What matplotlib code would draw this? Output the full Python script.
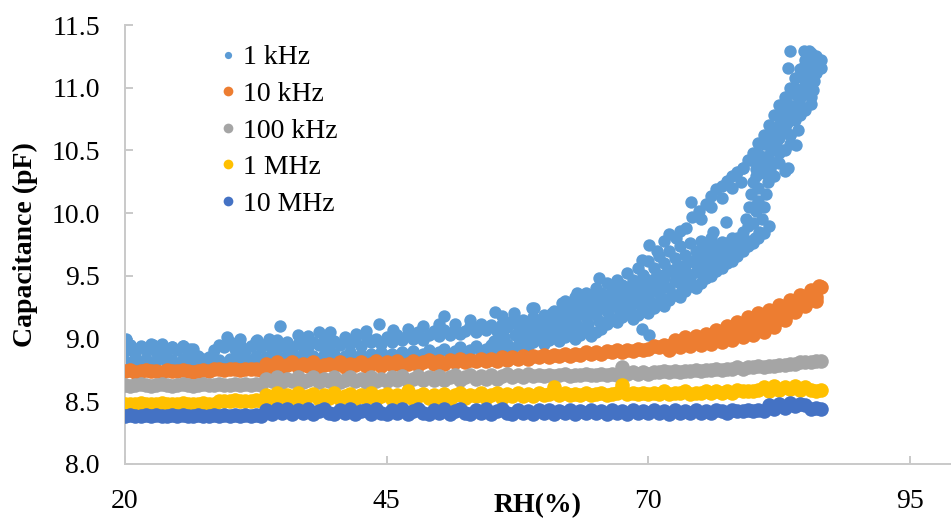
import matplotlib.pyplot as plt
from matplotlib.lines import Line2D
from matplotlib.ticker import FormatStrFormatter

plt.rcParams['font.family'] = 'Liberation Serif'

# humidity sweep, one reading every 0.5 %RH
rh = [
    20.0, 20.5, 21.0, 21.5, 22.0, 22.5, 23.0, 23.5, 24.0, 24.5,
    25.0, 25.5, 26.0, 26.5, 27.0, 27.5, 28.0, 28.5, 29.0, 29.5,
    30.0, 30.5, 31.0, 31.5, 32.0, 32.5, 33.0, 33.5, 34.0, 34.5,
    35.0, 35.5, 36.0, 36.5, 37.0, 37.5, 38.0, 38.5, 39.0, 39.5,
    40.0, 40.5, 41.0, 41.5, 42.0, 42.5, 43.0, 43.5, 44.0, 44.5,
    45.0, 45.5, 46.0, 46.5, 47.0, 47.5, 48.0, 48.5, 49.0, 49.5,
    50.0, 50.5, 51.0, 51.5, 52.0, 52.5, 53.0, 53.5, 54.0, 54.5,
    55.0, 55.5, 56.0, 56.5, 57.0, 57.5, 58.0, 58.5, 59.0, 59.5,
    60.0, 60.5, 61.0, 61.5, 62.0, 62.5, 63.0, 63.5, 64.0, 64.5,
    65.0, 65.5, 66.0, 66.5, 67.0, 67.5, 68.0, 68.5, 69.0, 69.5,
    70.0, 70.5, 71.0, 71.5, 72.0, 72.5, 73.0, 73.5, 74.0, 74.5,
    75.0, 75.5, 76.0, 76.5, 77.0, 77.5, 78.0, 78.5, 79.0, 79.5,
    80.0, 80.5, 81.0, 81.5, 82.0, 82.5, 83.0, 83.5, 84.0, 84.5,
    85.0, 85.5, 86.0, 86.5,
]

# capacitance (pF) per frequency
cap_10m = [
    8.385, 8.39, 8.385, 8.38, 8.39, 8.385, 8.39, 8.38, 8.385, 8.39,
    8.385, 8.39, 8.38, 8.385, 8.39, 8.385, 8.38, 8.39, 8.385, 8.39,
    8.385, 8.39, 8.385, 8.39, 8.385, 8.39, 8.385, 8.43, 8.40, 8.44,
    8.41, 8.44, 8.40, 8.43, 8.41, 8.44, 8.40, 8.42, 8.44, 8.41,
    8.40, 8.43, 8.41, 8.44, 8.40, 8.42, 8.43, 8.40, 8.44, 8.41,
    8.40, 8.43, 8.41, 8.44, 8.40, 8.42, 8.44, 8.41, 8.40, 8.43,
    8.41, 8.44, 8.40, 8.42, 8.44, 8.41, 8.40, 8.43, 8.41, 8.44,
    8.40, 8.42, 8.44, 8.41, 8.40, 8.43, 8.41, 8.42, 8.40, 8.43,
    8.41, 8.43, 8.40, 8.42, 8.41, 8.43, 8.40, 8.42, 8.41, 8.43,
    8.41, 8.42, 8.40, 8.43, 8.41, 8.42, 8.40, 8.43, 8.41, 8.42,
    8.41, 8.43, 8.41, 8.42, 8.40, 8.43, 8.41, 8.42, 8.41, 8.43,
    8.41, 8.42, 8.41, 8.43, 8.42, 8.41, 8.43, 8.42, 8.42, 8.43,
    8.42, 8.43, 8.42, 8.47, 8.44, 8.48, 8.45, 8.49, 8.46, 8.48,
    8.47, 8.44, 8.45, 8.44,
]

cap_1m = [
    8.48, 8.475, 8.48, 8.485, 8.48, 8.475, 8.48, 8.485, 8.48, 8.475,
    8.48, 8.485, 8.48, 8.475, 8.48, 8.485, 8.48, 8.48, 8.50, 8.505,
    8.50, 8.51, 8.50, 8.505, 8.50, 8.51, 8.50, 8.55, 8.52, 8.57,
    8.52, 8.55, 8.53, 8.57, 8.51, 8.54, 8.56, 8.52, 8.55, 8.53,
    8.57, 8.52, 8.54, 8.56, 8.52, 8.55, 8.53, 8.57, 8.52, 8.54,
    8.56, 8.52, 8.55, 8.53, 8.58, 8.52, 8.54, 8.56, 8.53, 8.55,
    8.53, 8.56, 8.52, 8.55, 8.57, 8.53, 8.55, 8.54, 8.57, 8.53,
    8.55, 8.57, 8.53, 8.56, 8.54, 8.57, 8.54, 8.56, 8.54, 8.57,
    8.55, 8.56, 8.61, 8.55, 8.57, 8.55, 8.56, 8.55, 8.57, 8.55,
    8.56, 8.57, 8.55, 8.56, 8.57, 8.63, 8.56, 8.57, 8.56, 8.57,
    8.56, 8.57, 8.56, 8.58, 8.56, 8.57, 8.57, 8.58, 8.56, 8.57,
    8.57, 8.58, 8.57, 8.58, 8.57, 8.58, 8.57, 8.59, 8.58, 8.58,
    8.58, 8.59, 8.61, 8.58, 8.62, 8.59, 8.61, 8.60, 8.62, 8.59,
    8.61, 8.59, 8.58, 8.59,
]

cap_100k = [
    8.63, 8.625, 8.63, 8.635, 8.63, 8.625, 8.63, 8.635, 8.63, 8.625,
    8.63, 8.635, 8.63, 8.625, 8.63, 8.635, 8.63, 8.63, 8.635, 8.63,
    8.63, 8.635, 8.63, 8.635, 8.63, 8.635, 8.63, 8.68, 8.66, 8.69,
    8.65, 8.68, 8.66, 8.69, 8.65, 8.67, 8.69, 8.65, 8.68, 8.66,
    8.69, 8.65, 8.67, 8.69, 8.66, 8.68, 8.65, 8.69, 8.66, 8.68,
    8.66, 8.69, 8.67, 8.70, 8.66, 8.68, 8.70, 8.67, 8.69, 8.67,
    8.70, 8.67, 8.69, 8.71, 8.67, 8.69, 8.71, 8.68, 8.70, 8.68,
    8.71, 8.68, 8.70, 8.72, 8.69, 8.71, 8.69, 8.72, 8.70, 8.71,
    8.70, 8.71, 8.70, 8.71, 8.72, 8.70, 8.71, 8.71, 8.72, 8.71,
    8.71, 8.72, 8.71, 8.72, 8.71, 8.77, 8.72, 8.73, 8.72, 8.73,
    8.72, 8.73, 8.73, 8.74, 8.73, 8.74, 8.73, 8.74, 8.74, 8.75,
    8.74, 8.75, 8.75, 8.76, 8.75, 8.76, 8.76, 8.77, 8.76, 8.77,
    8.77, 8.78, 8.77, 8.78, 8.78, 8.79, 8.79, 8.80, 8.80, 8.81,
    8.81, 8.81, 8.82, 8.82,
]

cap_10k = [
    8.74, 8.75, 8.735, 8.745, 8.75, 8.74, 8.745, 8.735, 8.75, 8.74,
    8.745, 8.75, 8.74, 8.735, 8.745, 8.75, 8.74, 8.755, 8.76, 8.75,
    8.755, 8.76, 8.75, 8.76, 8.755, 8.76, 8.75, 8.80, 8.77, 8.81,
    8.77, 8.79, 8.81, 8.77, 8.80, 8.78, 8.81, 8.77, 8.79, 8.80,
    8.78, 8.81, 8.77, 8.80, 8.79, 8.81, 8.78, 8.80, 8.82, 8.78,
    8.81, 8.79, 8.82, 8.78, 8.80, 8.82, 8.79, 8.81, 8.83, 8.80,
    8.82, 8.80, 8.83, 8.81, 8.84, 8.81, 8.83, 8.82, 8.84, 8.82,
    8.84, 8.82, 8.85, 8.83, 8.85, 8.84, 8.86, 8.84, 8.86, 8.85,
    8.87, 8.85, 8.87, 8.86, 8.88, 8.86, 8.88, 8.87, 8.89, 8.88,
    8.89, 8.88, 8.90, 8.89, 8.91, 8.89, 8.91, 8.90, 8.92, 8.91,
    8.92, 8.94, 8.93, 8.95, 8.94, 8.96, 8.95, 8.97, 8.96, 8.99,
    8.98, 9.01, 8.99, 9.03, 9.00, 9.05, 9.02, 9.08, 9.04, 9.10,
    9.06, 9.13, 9.08, 9.16, 9.12, 9.21, 9.17, 9.26, 9.22, 9.30,
    9.27, 9.34, 9.33, 9.41,
]

# 10 kHz spreads out at high humidity (RH, pF)
cap_10k_extra = [
    (72.0, 8.91), (73.0, 8.93), (74.0, 8.94), (75.0, 8.95), (76.0, 8.96),
    (77.0, 8.97), (78.0, 8.99), (79.0, 9.01), (80.0, 9.03), (81.0, 9.05),
    (82.0, 9.09), (83.0, 9.15), (84.0, 9.21), (85.0, 9.26), (86.0, 9.30),
    (72.5, 8.99), (73.5, 9.01), (74.5, 9.02), (75.5, 9.04), (76.5, 9.07),
    (77.5, 9.10), (78.5, 9.13), (79.5, 9.17), (80.5, 9.20), (81.5, 9.23),
    (82.5, 9.27), (83.5, 9.31), (84.5, 9.35), (85.5, 9.39), (86.3, 9.42),
]

# 1 kHz is noisy: lower and upper edge of the cloud on the same sweep
cap_1k_lo = [
    8.82, 8.80, 8.83, 8.81, 8.84, 8.80, 8.82, 8.85, 8.81, 8.83,
    8.80, 8.84, 8.82, 8.81, 8.79, 8.80, 8.79, 8.81, 8.83, 8.80,
    8.84, 8.82, 8.85, 8.81, 8.83, 8.86, 8.82, 8.85, 8.83, 8.86,
    8.84, 8.87, 8.83, 8.85, 8.88, 8.84, 8.86, 8.83, 8.87, 8.85,
    8.88, 8.84, 8.86, 8.89, 8.85, 8.87, 8.84, 8.88, 8.86, 8.89,
    8.86, 8.88, 8.85, 8.89, 8.87, 8.90, 8.86, 8.88, 8.91, 8.87,
    8.89, 8.92, 8.88, 8.90, 8.93, 8.89, 8.91, 8.94, 8.90, 8.92,
    8.95, 8.91, 8.93, 8.96, 8.92, 8.95, 8.98, 8.94, 8.97, 9.00,
    8.96, 8.99, 9.02, 8.98, 9.01, 9.04, 9.00, 9.03, 9.06, 9.02,
    9.05, 9.08, 9.12, 9.15, 9.13, 9.17, 9.20, 9.16, 9.19, 9.22,
    9.20, 9.24, 9.28, 9.26, 9.31, 9.35, 9.33, 9.38, 9.42, 9.40,
    9.44, 9.48, 9.50, 9.54, 9.56, 9.60, 9.62, 9.66, 9.70, 9.74,
    9.76, 9.80, 9.84, 9.90, 10.30, 10.40, 10.50, 10.62, 10.74, 10.86,
    10.96, 11.04, 11.12, 11.16,
]

cap_1k_hi = [
    8.90, 8.95, 8.88, 8.93, 8.91, 8.96, 8.89, 8.92, 8.90, 8.93,
    8.91, 8.94, 8.89, 8.92, 8.86, 8.84, 8.85, 8.91, 8.95, 8.93,
    8.97, 8.92, 8.95, 8.90, 8.94, 8.98, 8.93, 8.96, 8.92, 8.99,
    8.94, 8.97, 8.92, 8.96, 9.00, 8.93, 8.97, 8.95, 8.99, 8.93,
    8.98, 8.95, 9.01, 8.96, 8.99, 8.94, 9.02, 8.97, 9.00, 8.96,
    9.01, 8.97, 9.03, 8.99, 9.04, 9.00, 9.05, 8.99, 9.03, 9.06,
    9.02, 9.07, 9.03, 9.08, 9.04, 9.06, 9.10, 9.05, 9.09, 9.07,
    9.11, 9.06, 9.12, 9.09, 9.14, 9.10, 9.15, 9.12, 9.17, 9.14,
    9.19, 9.16, 9.22, 9.18, 9.25, 9.21, 9.27, 9.24, 9.30, 9.26,
    9.32, 9.29, 9.35, 9.31, 9.38, 9.34, 9.41, 9.37, 9.44, 9.40,
    9.47, 9.44, 9.51, 9.48, 9.55, 9.52, 9.58, 9.55, 9.62, 9.60,
    9.66, 9.64, 9.70, 9.68, 9.74, 9.72, 9.78, 9.80, 10.36, 10.42,
    10.48, 10.56, 10.62, 10.70, 10.78, 10.86, 10.93, 11.00, 11.08, 11.15,
    11.22, 11.28, 11.25, 11.22,
]

# remaining 1 kHz readings (RH, pF): stray points, the middle of the
# cloud at high RH and the two branches of the hysteresis loop
cap_1k_extra = [
    (20.1, 9.00), (20.5, 8.95), (21.5, 8.94), (22.7, 8.95), (23.5, 8.96),
    (24.5, 8.93), (25.5, 8.94), (26.2, 8.92), (29.7, 9.01), (31.0, 9.00),
    (32.6, 8.99), (33.8, 9.00), (34.8, 9.10), (36.5, 9.03), (37.5, 9.02),
    (38.5, 9.05), (39.6, 9.05), (42.1, 9.04), (43.0, 9.06), (44.3, 9.12),
    (45.6, 9.07), (47.0, 9.08), (48.5, 9.10), (50.0, 9.12), (50.5, 9.18),
    (51.5, 9.12), (53.0, 9.15), (54.0, 9.12), (55.3, 9.21), (56.0, 9.18),
    (57.2, 9.20), (58.9, 9.24),
    (58.0, 9.05), (58.5, 9.10), (59.0, 9.06), (59.5, 9.12), (60.0, 9.08),
    (60.5, 9.13), (61.0, 9.10), (61.5, 9.16), (62.0, 9.12), (62.5, 9.18),
    (63.0, 9.14), (63.5, 9.20), (64.0, 9.17), (64.5, 9.22), (65.0, 9.19),
    (65.5, 9.25), (66.0, 9.22), (66.5, 9.27), (67.0, 9.25), (67.5, 9.30),
    (68.0, 9.27), (68.5, 9.33), (69.0, 9.30), (69.5, 9.36), (70.0, 9.33),
    (70.5, 9.39), (71.0, 9.36), (71.5, 9.42), (72.0, 9.40), (72.5, 9.46),
    (73.0, 9.44), (73.5, 9.50), (74.0, 9.48), (74.5, 9.53), (75.0, 9.55),
    (75.5, 9.58), (76.0, 9.60), (76.5, 9.63), (77.0, 9.65), (77.5, 9.68),
    (78.0, 9.70), (78.5, 9.74), (79.0, 9.78), (79.5, 9.90), (80.0, 10.05),
    (80.5, 10.20), (81.0, 10.32), (81.5, 10.42), (82.0, 10.52), (82.5, 10.60),
    (83.0, 10.68), (83.5, 10.75), (84.0, 10.82), (84.5, 10.92), (85.0, 11.02),
    (85.5, 11.10), (86.0, 11.18),
    (55.25, 8.98), (56.25, 9.01), (57.25, 9.03), (58.25, 9.00), (59.25, 9.03),
    (60.25, 9.04), (61.25, 9.06), (62.25, 9.08), (63.25, 9.10), (64.25, 9.12),
    (65.25, 9.14), (66.25, 9.18), (67.25, 9.21), (68.25, 9.24), (69.25, 9.26),
    (70.25, 9.29), (71.25, 9.32), (72.25, 9.35), (73.25, 9.39), (74.25, 9.43),
    (75.25, 9.50), (76.25, 9.55), (77.25, 9.60),
    (60.75, 9.20), (61.75, 9.22), (62.75, 9.24), (63.75, 9.27), (64.75, 9.29),
    (65.75, 9.32), (66.75, 9.35), (67.75, 9.38), (68.75, 9.41), (69.75, 9.45),
    (70.75, 9.49), (71.75, 9.53), (72.75, 9.57), (73.75, 9.61), (74.75, 9.64),
    (75.75, 9.68), (76.75, 9.70),
    (62.0, 9.30), (63.0, 9.33), (64.0, 9.36), (65.0, 9.40), (66.0, 9.44),
    (67.0, 9.47), (68.0, 9.52), (69.0, 9.56), (70.0, 9.62), (71.0, 9.66),
    (72.0, 9.70), (73.0, 9.74), (74.0, 9.76), (75.0, 9.78), (76.0, 9.80),
    (62.5, 9.26), (63.5, 9.31), (64.5, 9.33), (65.5, 9.36), (66.5, 9.40),
    (67.5, 9.43), (68.5, 9.47), (69.5, 9.51), (70.5, 9.56), (71.5, 9.60),
    (72.5, 9.64), (73.5, 9.67), (74.5, 9.70), (75.5, 9.72), (76.5, 9.74),
    (77.0, 9.77), (77.5, 9.76), (78.0, 9.80),
    (69.4, 9.63), (70.1, 9.75), (70.8, 9.70), (71.5, 9.78), (72.0, 9.83),
    (72.6, 9.80), (73.0, 9.86), (73.6, 9.88), (74.2, 9.97), (74.1, 10.09),
    (74.8, 10.02), (75.5, 10.07), (76.0, 10.14), (76.5, 10.19), (77.0, 10.22),
    (77.5, 10.26), (78.0, 10.30), (78.5, 10.33), (79.0, 10.36), (75.0, 9.95),
    (76.0, 10.05), (77.0, 10.12), (78.0, 10.20), (78.8, 10.25), (77.4, 9.93),
    (76.2, 9.85),
    (79.0, 9.85), (79.3, 9.95), (79.6, 10.05), (79.8, 10.15), (80.0, 10.25),
    (80.3, 10.35), (80.6, 9.85), (80.8, 9.95), (81.0, 10.05), (81.2, 10.15),
    (81.4, 10.25), (80.2, 9.80), (80.5, 10.10), (79.5, 9.78), (79.8, 9.76),
    (80.0, 9.92), (80.3, 10.02), (81.0, 10.45), (81.6, 10.35),
    (81.5, 10.55), (82.0, 10.62), (82.5, 10.48), (83.0, 10.80), (83.5, 10.62),
    (84.0, 10.95), (84.5, 10.78), (85.0, 11.10), (85.5, 10.93), (85.8, 11.05),
    (84.9, 11.29), (83.5, 11.29), (83.3, 11.16), (86.0, 11.20), (85.5, 10.87),
    (84.1, 10.54), (83.0, 10.34), (83.3, 10.36), (82.5, 10.70), (84.0, 10.85),
    (85.0, 11.18), (85.3, 11.29),
    (80.25, 10.30), (80.75, 10.40), (81.25, 10.45), (81.75, 10.50),
    (82.25, 10.58), (82.75, 10.65), (83.25, 10.72), (83.75, 10.80),
    (84.25, 10.88), (84.75, 10.98), (85.25, 11.06), (85.75, 11.15),
    (82.0, 10.40), (82.75, 10.50), (83.5, 10.55), (84.25, 10.66),
    (85.0, 10.82), (85.75, 10.98), (81.0, 10.55), (81.75, 10.65),
    (82.5, 10.78), (83.25, 10.88), (84.0, 11.00), (84.75, 11.08),
    (85.5, 11.18), (79.75, 10.42), (80.5, 10.47),
    (76.1, 9.65), (77.4, 9.67), (70.1, 9.03), (69.4, 9.08), (65.3, 9.48),
    (63.2, 9.36), (61.7, 9.28), (59.1, 9.24),
]

labels = ['1 kHz', '10 kHz', '100 kHz', '1 MHz', '10 MHz']
colors = ['#5B9BD5', '#ED7D31', '#A5A5A5', '#FFC000', '#4472C4']
axis_grey = '#C9C9C9'

fig = plt.figure(figsize=(9.51, 5.2), dpi=100)
ax = fig.add_axes([0.1314, 0.1077, 0.8686, 0.8442])

rh_1k = rh + rh + [p[0] for p in cap_1k_extra]
c_1k = cap_1k_lo + cap_1k_hi + [p[1] for p in cap_1k_extra]
ax.scatter(rh_1k, c_1k, s=80, color=colors[0], linewidths=0, zorder=2)

rh_10k = rh + [p[0] for p in cap_10k_extra]
c_10k = cap_10k + [p[1] for p in cap_10k_extra]
ax.scatter(rh_10k, c_10k, s=110, color=colors[1], linewidths=0, zorder=3)
for i, series in enumerate([cap_100k, cap_1m, cap_10m], start=2):
    ax.scatter(rh, series, s=110, color=colors[i], linewidths=0, zorder=2 + i)

ax.set_xlim(20, 98.9)
ax.set_ylim(8.0, 11.5)
ax.set_xticks([20, 45, 70, 95])
ax.set_yticks([8.0, 8.5, 9.0, 9.5, 10.0, 10.5, 11.0, 11.5])
ax.yaxis.set_major_formatter(FormatStrFormatter('%.1f'))

for side in ['top', 'right']:
    ax.spines[side].set_visible(False)
for side in ['left', 'bottom']:
    ax.spines[side].set_color(axis_grey)
    ax.spines[side].set_linewidth(1.4)
ax.tick_params(direction='in', length=6, width=1.4, color=axis_grey,
               labelsize=20, pad=18)

ax.set_xlabel('RH(%)', fontsize=20, fontweight='bold')
ax.xaxis.set_label_coords(0.5, -0.094)
ax.xaxis.label.set_verticalalignment('center')
ax.set_ylabel('Capacitance (pF)', fontsize=20, fontweight='bold')
ax.yaxis.set_label_coords(-0.121, 0.5)
ax.yaxis.label.set_verticalalignment('center')

sizes = [5.2, 7.0, 7.0, 7.0, 7.0]
handles = [Line2D([], [], ls='', marker='o', color=c, markersize=m,
                  markeredgewidth=0) for c, m in zip(colors, sizes)]
ax.legend(handles, labels, loc='upper left', frameon=False, fontsize=20,
          bbox_to_anchor=(221 / 951, 1 - 45 / 520),
          bbox_transform=fig.transFigure, borderpad=0, borderaxespad=0,
          handlelength=0.5, handletextpad=0.3, labelspacing=0.4)

fig.savefig('out.png', dpi=100)
